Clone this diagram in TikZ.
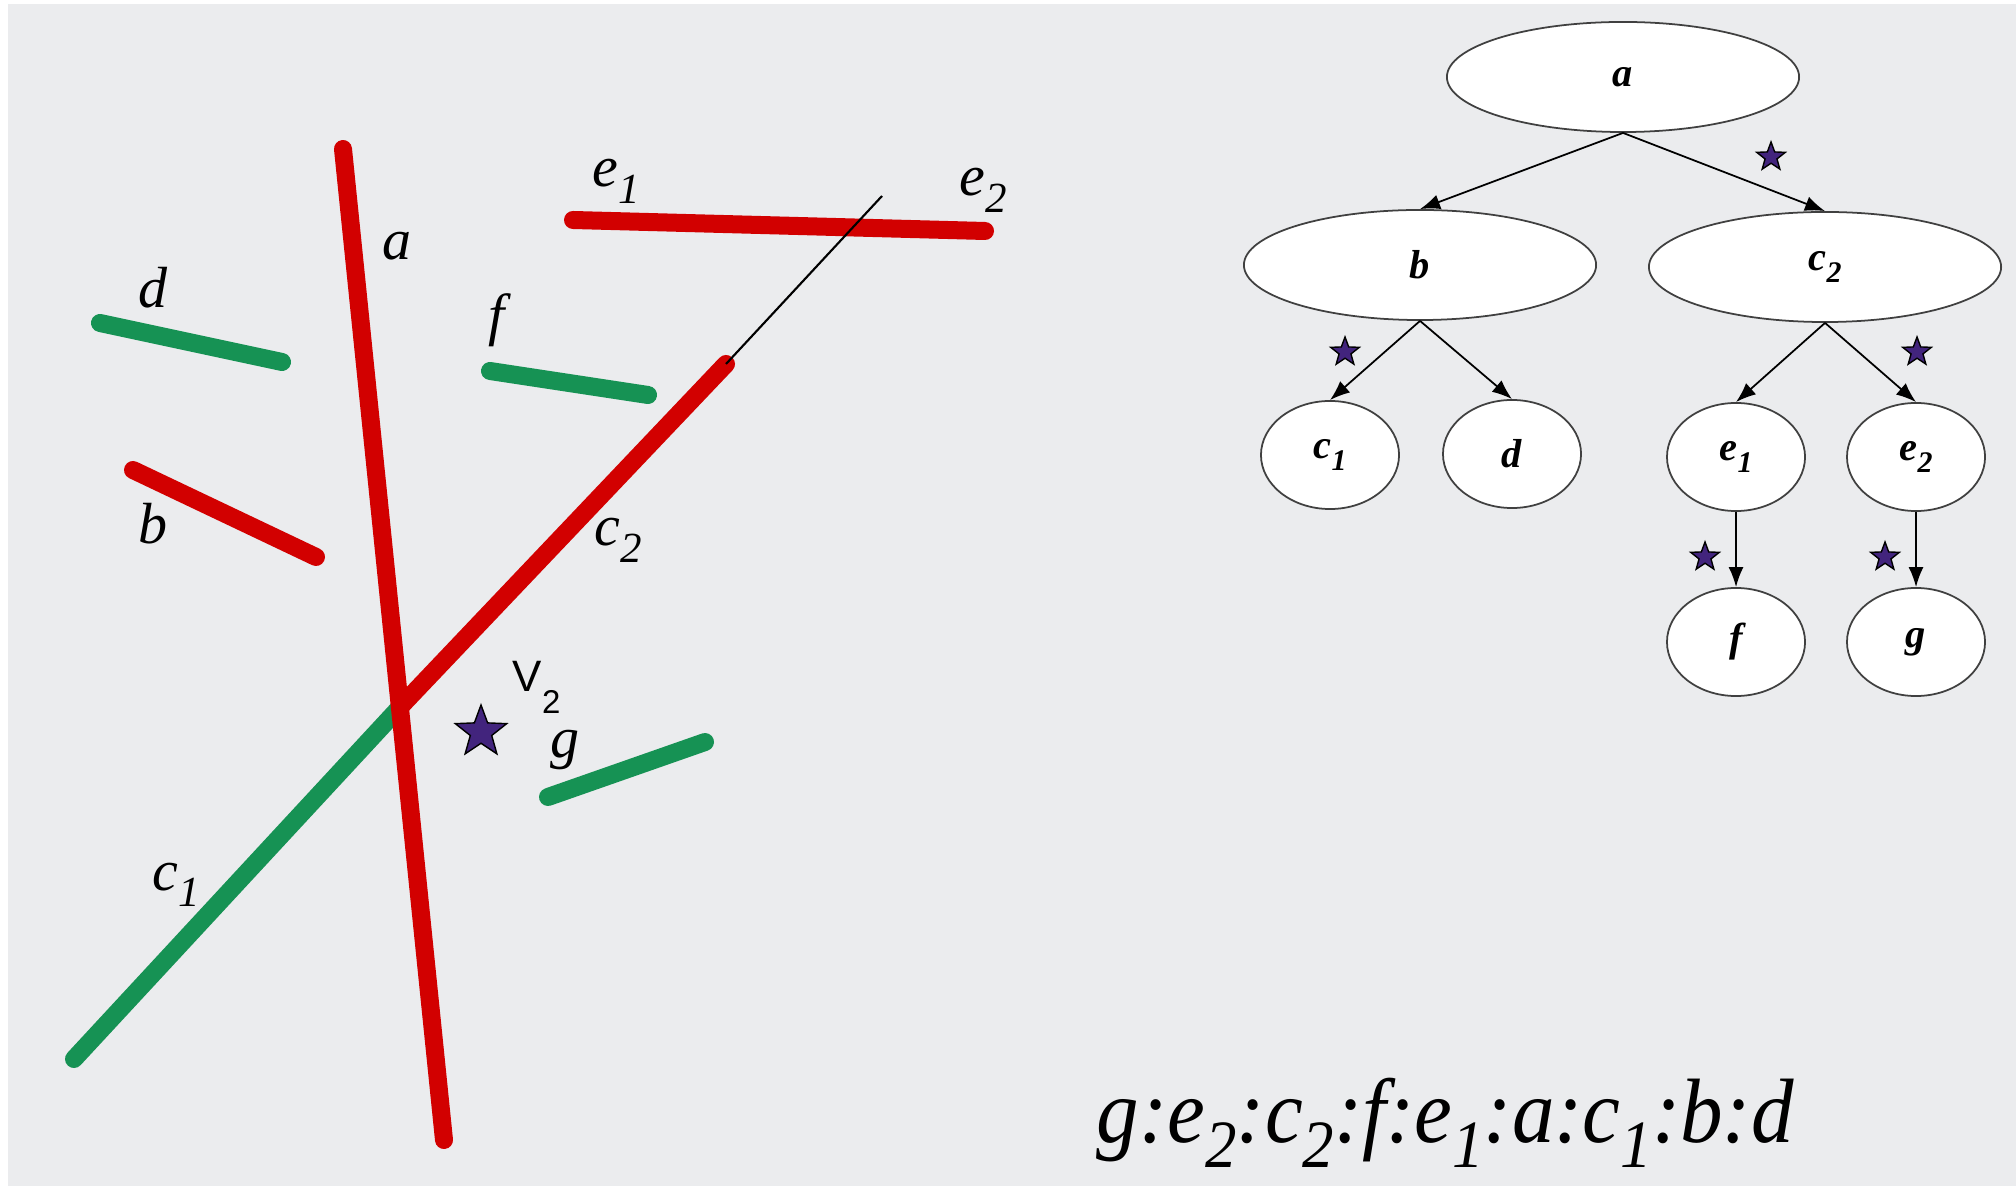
\documentclass[tikz,border=0pt]{standalone}
\usepackage{fontspec}
\setmainfont{Liberation Serif}
\setsansfont{Liberation Sans}
\usetikzlibrary{shapes.geometric,arrows.meta}
\definecolor{bg}{RGB}{235,236,238}
\definecolor{segred}{RGB}{210,0,0}
\definecolor{seggreen}{RGB}{22,146,84}
\definecolor{starfill}{RGB}{66,36,125}
\newcommand\lsub[1]{\raisebox{-0.28em}{\scalebox{0.74}{#1}}}
\begin{document}
\begin{tikzpicture}[x=0.01cm,y=-0.01cm,
  seg/.style={line width=0.18cm,line cap=round},
  redseg/.style={seg,draw=segred},
  greenseg/.style={seg,draw=seggreen},
  lbl/.style={font=\fontsize{16.5}{19}\selectfont\itshape,inner sep=0pt,anchor=base west},
  tnode/.style={draw=black!75,fill=white,ellipse,line width=0.5pt,inner sep=0pt,font=\fontsize{11.5}{13}\selectfont\bfseries\itshape},
  bignode/.style={tnode,minimum width=3.52cm,minimum height=1.1cm},
  smallnode/.style={tnode,minimum width=1.38cm,minimum height=1.08cm},
  edgearrow/.style={-{Latex[length=0.2cm,width=0.15cm]},line width=0.5pt,black},
  pstar/.style={star,star points=5,star point ratio=2.4,fill=starfill,draw=black,line width=0.4pt,inner sep=0pt,minimum size=#1},
]
\useasboundingbox (0,0) rectangle (2016,1186);
\fill[white] (0,0) rectangle (2016,1186);
\fill[bg] (8,4) rectangle (2016,1186);

% ---- left: segments ----
\coordinate (atop) at (343,149);
\coordinate (abot) at (444,1140);
\coordinate (v) at (401,706);
\coordinate (c1end) at (74,1059);
\coordinate (c2end) at (726,364);
\coordinate (rayend) at (882,196);
\coordinate (e1l) at (573,220);
\coordinate (e1r) at (985,231);
\coordinate (dl) at (100,323);
\coordinate (dr) at (282,362);
\coordinate (fl) at (490,371);
\coordinate (fr) at (648,395);
\coordinate (bl) at (133,470);
\coordinate (br) at (316,557);
\coordinate (gl) at (548,797);
\coordinate (gr) at (705,742);

\draw[greenseg] (c1end) -- (v);
\draw[redseg] (v) -- (c2end);
\draw[redseg] (atop) -- (abot);
\draw[redseg] (e1l) -- (e1r);
\draw[line width=0.6pt,black] (c2end) -- (rayend);
\draw[greenseg] (dl) -- (dr);
\draw[greenseg] (fl) -- (fr);
\draw[redseg] (bl) -- (br);
\draw[greenseg] (gl) -- (gr);

\node[lbl] (la) at (382,260) {a};
\node[lbl] (ld) at (138,308) {d};
\node[lbl] (lf) at (488,335) {f};
\node[lbl] (lb) at (138,544) {b};
\node[lbl] (lc2) at (594,546) {c\lsub{2}};
\node[lbl] (le1) at (592,187) {e\lsub{1}};
\node[lbl] (le2) at (959,196) {e\lsub{2}};
\node[lbl] (lg) at (550,758) {g};
\node[lbl] (lc1) at (152,890) {c\lsub{1}};
\node[pstar=0.54cm] (vstar) at (481,732) {};
\node[anchor=base west,inner sep=0pt,font=\sffamily\fontsize{12.5}{14}\selectfont] (lv) at (512,692) {V\raisebox{-0.5em}{\scalebox{0.75}{2}}};

% ---- right: tree ----
\node[bignode] (ta) at (1623,77) {a};
\node[bignode] (tb) at (1420,265) {b};
\node[bignode] (tc2) at (1825,267) {c\lsub{2}};
\node[smallnode] (tc1) at (1330,455) {c\lsub{1}};
\node[smallnode] (td) at (1512,454) {d};
\node[smallnode] (te1) at (1736,457) {e\lsub{1}};
\node[smallnode] (te2) at (1916,457) {e\lsub{2}};
\node[smallnode] (tf) at (1736,642) {f};
\node[smallnode] (tg) at (1916,642) {g};

\draw[edgearrow] (ta.south) -- (tb.north);
\draw[edgearrow] (ta.south) -- (tc2.north);
\draw[edgearrow] (tb.south) -- (tc1.north);
\draw[edgearrow] (tb.south) -- (td.north);
\draw[edgearrow] (tc2.south) -- (te1.north);
\draw[edgearrow] (tc2.south) -- (te2.north);
\draw[edgearrow] (te1.south) -- (tf.north);
\draw[edgearrow] (te2.south) -- (tg.north);

\node[pstar=0.3cm] (s1) at (1771,157) {};
\node[pstar=0.3cm] (s2) at (1345,352) {};
\node[pstar=0.3cm] (s3) at (1917,352) {};
\node[pstar=0.3cm] (s4) at (1705,557) {};
\node[pstar=0.3cm] (s5) at (1885,557) {};

% ---- bottom sequence ----
\node[anchor=base west,inner sep=0pt,font=\fontsize{26}{30}\selectfont\itshape] (seq) at (1096,1142)
  {\scalebox{0.93}[1]{g:e\lsub{2}:c\lsub{2}:f:e\lsub{1}:a:c\lsub{1}:b:d}};
\end{tikzpicture}
\end{document}
